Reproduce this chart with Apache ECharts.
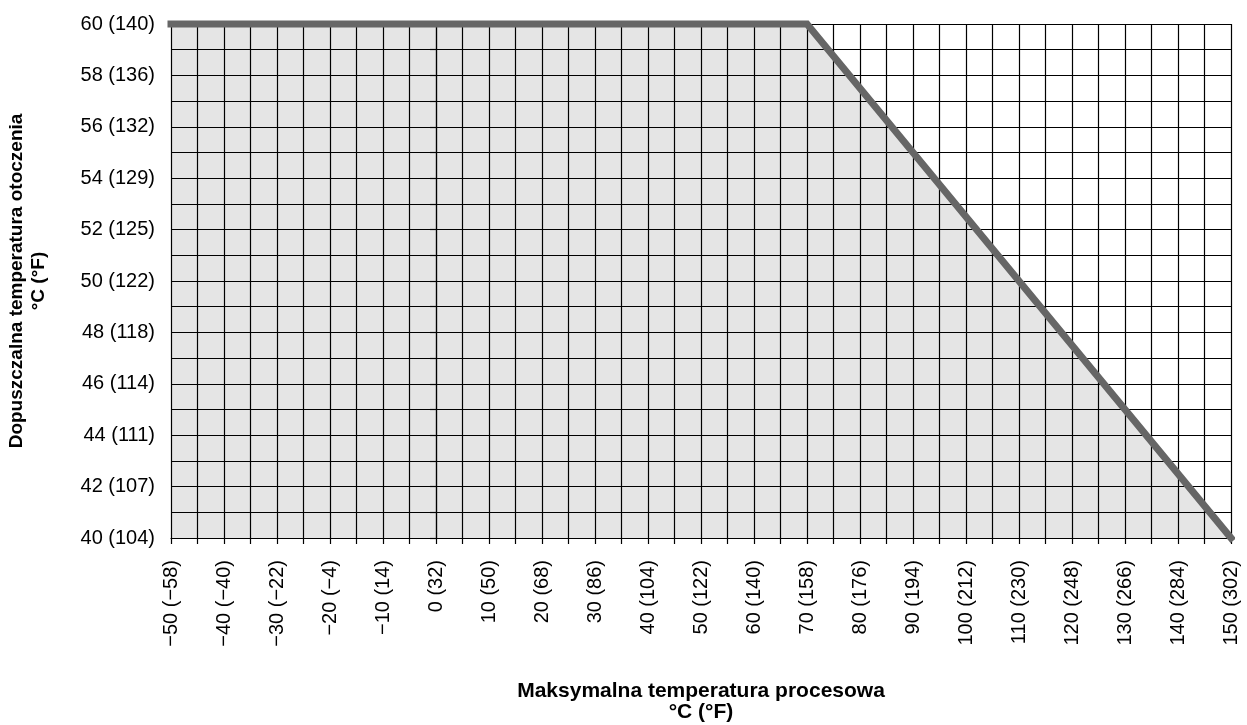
<!DOCTYPE html>
<html>
<head>
<meta charset="utf-8">
<script src="https://cdn.jsdelivr.net/npm/echarts@6/dist/echarts.min.js"></script>
<style>html,body{margin:0;padding:0;background:#fff}#c{width:1247px;height:725px}</style>
</head>
<body>
<div id="c"></div>
<script>
const xTicks = [-50,-40,-30,-20,-10,0,10,20,30,40,50,60,70,80,90,100,110,120,130,140,150];
const xTickLabels = ['−50 (−58)','−40 (−40)','−30 (−22)','−20 (−4)','−10 (14)','0 (32)','10 (50)','20 (68)','30 (86)','40 (104)','50 (122)','60 (140)','70 (158)','80 (176)','90 (194)','100 (212)','110 (230)','120 (248)','130 (266)','140 (284)','150 (302)'];
const yTicks = [40,42,44,46,48,50,52,54,56,58,60];
const yTickLabels = ['40 (104)','42 (107)','44 (111)','46 (114)','48 (118)','50 (122)','52 (125)','54 (129)','56 (132)','58 (136)','60 (140)'];
const curveX = [-50, 70, 150];
const curveY = [60, 60, 40];
const xTitle = 'Maksymalna temperatura procesowa\n°C (°F)';
const yTitle = 'Dopuszczalna temperatura otoczenia\n°C (°F)';

const FONT = '"Liberation Sans", Arial, sans-serif';
const chart = echarts.init(document.getElementById('c'), null, {renderer:'canvas'});
const lineStyle = {color:'#000', width:1.2};
chart.setOption({
  animation:false,
  grid:{left:171, right:16, top:24, bottom:187, outerBoundsMode:'none', containLabel:false},
  xAxis:{
    type:'value', min:-50, max:150, interval:10,
    name:xTitle, nameLocation:'middle', nameGap:143,
    nameTextStyle:{fontFamily:FONT, fontWeight:'bold', fontSize:21, color:'#000', lineHeight:21},
    axisLine:{show:true, lineStyle:lineStyle},
    axisTick:{show:true, length:6, lineStyle:lineStyle},
    minorTick:{show:true, splitNumber:2, length:6, lineStyle:lineStyle},
    splitLine:{show:true, lineStyle:lineStyle},
    minorSplitLine:{show:true, lineStyle:lineStyle},
    axisLabel:{rotate:90, margin:22, fontFamily:FONT, fontSize:20, color:'#000',
      formatter:v=>{const i=xTicks.indexOf(v);return i>=0?xTickLabels[i]:'';}}
  },
  yAxis:{
    type:'value', min:40, max:60, interval:2,
    name:yTitle, nameLocation:'middle', nameGap:121, nameRotate:90,
    nameTextStyle:{fontFamily:FONT, fontWeight:'bold', fontSize:19, color:'#000', lineHeight:22},
    axisLine:{show:true, lineStyle:lineStyle},
    axisTick:{show:true, length:6, lineStyle:lineStyle},
    minorTick:{show:true, splitNumber:2, length:6, lineStyle:lineStyle},
    splitLine:{show:true, lineStyle:lineStyle},
    minorSplitLine:{show:true, lineStyle:lineStyle},
    axisLabel:{margin:16, fontFamily:FONT, fontSize:20, color:'#000',
      formatter:v=>{const i=yTicks.indexOf(v);return i>=0?yTickLabels[i]:'';}}
  },
  series:[{
    type:'line',
    data:curveX.map((x,i)=>[x,curveY[i]]),
    showSymbol:false, symbol:'none',
    lineStyle:{color:'#666666', width:7, cap:'square', join:'miter'},
    areaStyle:{color:'#000', opacity:0.1, origin:'start'},
    clip:false
  }]
});
</script>
</body>
</html>
